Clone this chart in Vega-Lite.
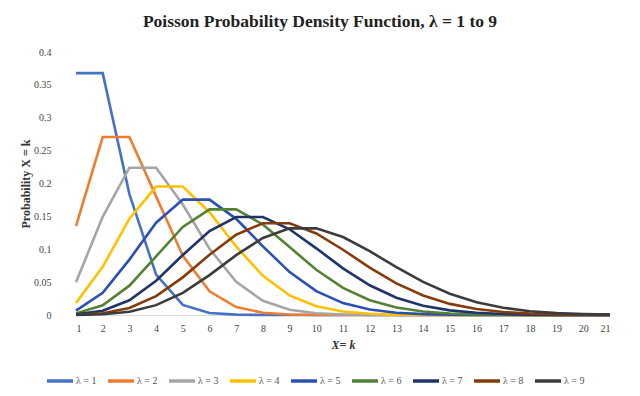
{
  "$schema": "https://vega.github.io/schema/vega-lite/v6.json",
  "width": 534,
  "height": 263,
  "autosize": "none",
  "padding": {"left": 76, "top": 52, "right": 30, "bottom": 81},
  "background": "white",
  "config": {
    "font": "Times New Roman, Liberation Serif, serif",
    "view": {"stroke": null}
  },
  "title": {
    "text": "Poisson Probability Density Function, λ = 1 to 9",
    "font": "Times New Roman, Liberation Serif, serif",
    "fontSize": 17.5,
    "fontWeight": "bold",
    "color": "#222222",
    "anchor": "middle",
    "dx": -23,
    "offset": 17
  },
  "data": {
    "values": [
      {"x":1,"s":"λ = 1","p":0.367879},{"x":2,"s":"λ = 1","p":0.367879},{"x":3,"s":"λ = 1","p":0.18394},{"x":4,"s":"λ = 1","p":0.061313},{"x":5,"s":"λ = 1","p":0.015328},{"x":6,"s":"λ = 1","p":0.003066},{"x":7,"s":"λ = 1","p":0.000511},{"x":8,"s":"λ = 1","p":0.000073},{"x":9,"s":"λ = 1","p":0.000009},{"x":10,"s":"λ = 1","p":0.000001},{"x":11,"s":"λ = 1","p":0},{"x":12,"s":"λ = 1","p":0},{"x":13,"s":"λ = 1","p":0},{"x":14,"s":"λ = 1","p":0},{"x":15,"s":"λ = 1","p":0},{"x":16,"s":"λ = 1","p":0},{"x":17,"s":"λ = 1","p":0},{"x":18,"s":"λ = 1","p":0},{"x":19,"s":"λ = 1","p":0},{"x":20,"s":"λ = 1","p":0},{"x":21,"s":"λ = 1","p":0},
      {"x":1,"s":"λ = 2","p":0.135335},{"x":2,"s":"λ = 2","p":0.270671},{"x":3,"s":"λ = 2","p":0.270671},{"x":4,"s":"λ = 2","p":0.180447},{"x":5,"s":"λ = 2","p":0.090224},{"x":6,"s":"λ = 2","p":0.036089},{"x":7,"s":"λ = 2","p":0.01203},{"x":8,"s":"λ = 2","p":0.003437},{"x":9,"s":"λ = 2","p":0.000859},{"x":10,"s":"λ = 2","p":0.000191},{"x":11,"s":"λ = 2","p":0.000038},{"x":12,"s":"λ = 2","p":0.000007},{"x":13,"s":"λ = 2","p":0.000001},{"x":14,"s":"λ = 2","p":0},{"x":15,"s":"λ = 2","p":0},{"x":16,"s":"λ = 2","p":0},{"x":17,"s":"λ = 2","p":0},{"x":18,"s":"λ = 2","p":0},{"x":19,"s":"λ = 2","p":0},{"x":20,"s":"λ = 2","p":0},{"x":21,"s":"λ = 2","p":0},
      {"x":1,"s":"λ = 3","p":0.049787},{"x":2,"s":"λ = 3","p":0.149361},{"x":3,"s":"λ = 3","p":0.224042},{"x":4,"s":"λ = 3","p":0.224042},{"x":5,"s":"λ = 3","p":0.168031},{"x":6,"s":"λ = 3","p":0.100819},{"x":7,"s":"λ = 3","p":0.050409},{"x":8,"s":"λ = 3","p":0.021604},{"x":9,"s":"λ = 3","p":0.008102},{"x":10,"s":"λ = 3","p":0.002701},{"x":11,"s":"λ = 3","p":0.00081},{"x":12,"s":"λ = 3","p":0.000221},{"x":13,"s":"λ = 3","p":0.000055},{"x":14,"s":"λ = 3","p":0.000013},{"x":15,"s":"λ = 3","p":0.000003},{"x":16,"s":"λ = 3","p":0.000001},{"x":17,"s":"λ = 3","p":0},{"x":18,"s":"λ = 3","p":0},{"x":19,"s":"λ = 3","p":0},{"x":20,"s":"λ = 3","p":0},{"x":21,"s":"λ = 3","p":0},
      {"x":1,"s":"λ = 4","p":0.018316},{"x":2,"s":"λ = 4","p":0.073263},{"x":3,"s":"λ = 4","p":0.146525},{"x":4,"s":"λ = 4","p":0.195367},{"x":5,"s":"λ = 4","p":0.195367},{"x":6,"s":"λ = 4","p":0.156293},{"x":7,"s":"λ = 4","p":0.104196},{"x":8,"s":"λ = 4","p":0.05954},{"x":9,"s":"λ = 4","p":0.02977},{"x":10,"s":"λ = 4","p":0.013231},{"x":11,"s":"λ = 4","p":0.005292},{"x":12,"s":"λ = 4","p":0.001925},{"x":13,"s":"λ = 4","p":0.000642},{"x":14,"s":"λ = 4","p":0.000197},{"x":15,"s":"λ = 4","p":0.000056},{"x":16,"s":"λ = 4","p":0.000015},{"x":17,"s":"λ = 4","p":0.000004},{"x":18,"s":"λ = 4","p":0.000001},{"x":19,"s":"λ = 4","p":0},{"x":20,"s":"λ = 4","p":0},{"x":21,"s":"λ = 4","p":0},
      {"x":1,"s":"λ = 5","p":0.006738},{"x":2,"s":"λ = 5","p":0.03369},{"x":3,"s":"λ = 5","p":0.084224},{"x":4,"s":"λ = 5","p":0.140374},{"x":5,"s":"λ = 5","p":0.175467},{"x":6,"s":"λ = 5","p":0.175467},{"x":7,"s":"λ = 5","p":0.146223},{"x":8,"s":"λ = 5","p":0.104445},{"x":9,"s":"λ = 5","p":0.065278},{"x":10,"s":"λ = 5","p":0.036266},{"x":11,"s":"λ = 5","p":0.018133},{"x":12,"s":"λ = 5","p":0.008242},{"x":13,"s":"λ = 5","p":0.003434},{"x":14,"s":"λ = 5","p":0.001321},{"x":15,"s":"λ = 5","p":0.000472},{"x":16,"s":"λ = 5","p":0.000157},{"x":17,"s":"λ = 5","p":0.000049},{"x":18,"s":"λ = 5","p":0.000015},{"x":19,"s":"λ = 5","p":0.000004},{"x":20,"s":"λ = 5","p":0.000001},{"x":21,"s":"λ = 5","p":0},
      {"x":1,"s":"λ = 6","p":0.002479},{"x":2,"s":"λ = 6","p":0.014873},{"x":3,"s":"λ = 6","p":0.044618},{"x":4,"s":"λ = 6","p":0.089235},{"x":5,"s":"λ = 6","p":0.133853},{"x":6,"s":"λ = 6","p":0.160623},{"x":7,"s":"λ = 6","p":0.160623},{"x":8,"s":"λ = 6","p":0.137677},{"x":9,"s":"λ = 6","p":0.103258},{"x":10,"s":"λ = 6","p":0.068838},{"x":11,"s":"λ = 6","p":0.041303},{"x":12,"s":"λ = 6","p":0.022529},{"x":13,"s":"λ = 6","p":0.011264},{"x":14,"s":"λ = 6","p":0.005199},{"x":15,"s":"λ = 6","p":0.002228},{"x":16,"s":"λ = 6","p":0.000891},{"x":17,"s":"λ = 6","p":0.000334},{"x":18,"s":"λ = 6","p":0.000118},{"x":19,"s":"λ = 6","p":0.000039},{"x":20,"s":"λ = 6","p":0.000012},{"x":21,"s":"λ = 6","p":0.000004},
      {"x":1,"s":"λ = 7","p":0.000912},{"x":2,"s":"λ = 7","p":0.006383},{"x":3,"s":"λ = 7","p":0.022341},{"x":4,"s":"λ = 7","p":0.052129},{"x":5,"s":"λ = 7","p":0.091226},{"x":6,"s":"λ = 7","p":0.127717},{"x":7,"s":"λ = 7","p":0.149003},{"x":8,"s":"λ = 7","p":0.149003},{"x":9,"s":"λ = 7","p":0.130377},{"x":10,"s":"λ = 7","p":0.101405},{"x":11,"s":"λ = 7","p":0.070983},{"x":12,"s":"λ = 7","p":0.045171},{"x":13,"s":"λ = 7","p":0.02635},{"x":14,"s":"λ = 7","p":0.014188},{"x":15,"s":"λ = 7","p":0.007094},{"x":16,"s":"λ = 7","p":0.003311},{"x":17,"s":"λ = 7","p":0.001448},{"x":18,"s":"λ = 7","p":0.000596},{"x":19,"s":"λ = 7","p":0.000232},{"x":20,"s":"λ = 7","p":0.000086},{"x":21,"s":"λ = 7","p":0.00003},
      {"x":1,"s":"λ = 8","p":0.000335},{"x":2,"s":"λ = 8","p":0.002684},{"x":3,"s":"λ = 8","p":0.010735},{"x":4,"s":"λ = 8","p":0.028626},{"x":5,"s":"λ = 8","p":0.057252},{"x":6,"s":"λ = 8","p":0.091604},{"x":7,"s":"λ = 8","p":0.122138},{"x":8,"s":"λ = 8","p":0.139587},{"x":9,"s":"λ = 8","p":0.139587},{"x":10,"s":"λ = 8","p":0.124077},{"x":11,"s":"λ = 8","p":0.099262},{"x":12,"s":"λ = 8","p":0.07219},{"x":13,"s":"λ = 8","p":0.048127},{"x":14,"s":"λ = 8","p":0.029616},{"x":15,"s":"λ = 8","p":0.016924},{"x":16,"s":"λ = 8","p":0.009026},{"x":17,"s":"λ = 8","p":0.004513},{"x":18,"s":"λ = 8","p":0.002124},{"x":19,"s":"λ = 8","p":0.000944},{"x":20,"s":"λ = 8","p":0.000397},{"x":21,"s":"λ = 8","p":0.000159},
      {"x":1,"s":"λ = 9","p":0.000123},{"x":2,"s":"λ = 9","p":0.001111},{"x":3,"s":"λ = 9","p":0.004998},{"x":4,"s":"λ = 9","p":0.014994},{"x":5,"s":"λ = 9","p":0.033737},{"x":6,"s":"λ = 9","p":0.060727},{"x":7,"s":"λ = 9","p":0.09109},{"x":8,"s":"λ = 9","p":0.117116},{"x":9,"s":"λ = 9","p":0.131756},{"x":10,"s":"λ = 9","p":0.131756},{"x":11,"s":"λ = 9","p":0.11858},{"x":12,"s":"λ = 9","p":0.09702},{"x":13,"s":"λ = 9","p":0.072765},{"x":14,"s":"λ = 9","p":0.050376},{"x":15,"s":"λ = 9","p":0.032384},{"x":16,"s":"λ = 9","p":0.019431},{"x":17,"s":"λ = 9","p":0.01093},{"x":18,"s":"λ = 9","p":0.005786},{"x":19,"s":"λ = 9","p":0.002893},{"x":20,"s":"λ = 9","p":0.00137},{"x":21,"s":"λ = 9","p":0.000617}
    ]
  },
  "mark": {"type": "line", "strokeWidth": 2.6, "strokeJoin": "miter", "interpolate": "linear"},
  "encoding": {
    "x": {
      "field": "x",
      "type": "quantitative",
      "scale": {"domain": [1, 21], "nice": false, "zero": false},
      "axis": {
        "values": [1,2,3,4,5,6,7,8,9,10,11,12,13,14,15,16,17,18,19,20,21],
        "format": "d",
        "grid": false,
        "ticks": false,
        "domain": true,
        "domainColor": "#d9d9d9",
        "labelFont": "Times New Roman, Liberation Serif, serif",
        "labelFontSize": 10,
        "labelColor": "#444444",
        "labelPadding": 8,
        "title": "X= k",
        "titleFont": "Times New Roman, Liberation Serif, serif",
        "titleFontSize": 12,
        "titleFontWeight": "bold",
        "titleFontStyle": "italic",
        "titleColor": "#333333",
        "titlePadding": 6
      }
    },
    "y": {
      "field": "p",
      "type": "quantitative",
      "scale": {"domain": [0, 0.4], "nice": false},
      "axis": {
        "values": [0, 0.05, 0.1, 0.15, 0.2, 0.25, 0.3, 0.35, 0.4],
        "format": ".2~f",
        "grid": false,
        "ticks": false,
        "domain": false,
        "labelFont": "Times New Roman, Liberation Serif, serif",
        "labelFontSize": 10,
        "labelColor": "#444444",
        "labelPadding": 25,
        "title": "Probability X = k",
        "titleFont": "Times New Roman, Liberation Serif, serif",
        "titleFontSize": 12,
        "titleFontWeight": "bold",
        "titleColor": "#333333",
        "titlePadding": 1
      }
    },
    "color": {
      "field": "s",
      "type": "nominal",
      "scale": {
        "domain": ["λ = 1","λ = 2","λ = 3","λ = 4","λ = 5","λ = 6","λ = 7","λ = 8","λ = 9"],
        "range": ["#4472C4","#ED7D31","#A5A5A5","#FFC000","#2B50B4","#548235","#1F3468","#843C0C","#3C3C3C"]
      },
      "legend": {
        "title": null,
        "orient": "none",
        "direction": "horizontal",
        "columns": 9,
        "legendX": -31,
        "legendY": 314,
        "symbolType": "stroke",
        "symbolSize": 676,
        "symbolStrokeWidth": 3.5,
        "labelFont": "Times New Roman, Liberation Serif, serif",
        "labelFontSize": 10,
        "labelColor": "#555555",
        "labelOffset": 1,
        "columnPadding": 4
      }
    }
  }
}
